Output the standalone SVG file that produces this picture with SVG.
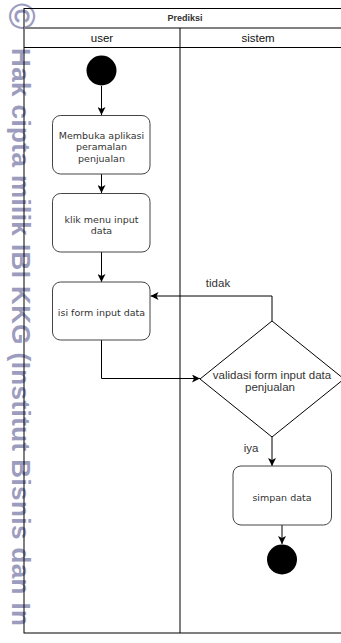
<svg xmlns="http://www.w3.org/2000/svg" width="341" height="643" viewBox="0 0 341 643">
<style>
.wm{font-family:"Liberation Sans",Arial,sans-serif;font-weight:bold;fill:#9c9cbf}
.frame{fill:none;stroke:#000;stroke-width:1}
.box{fill:#fff;stroke:#444;stroke-width:1}
.btxt{font-family:"DejaVu Sans",Verdana,sans-serif;font-size:9.5px;fill:#333;text-anchor:middle}
.ltxt{font-family:"Liberation Sans",Arial,sans-serif;font-size:11.5px;fill:#333;text-anchor:middle}
.htxt{font-family:"Liberation Sans",Arial,sans-serif;font-size:11.5px;fill:#111;text-anchor:middle}
.ttxt{font-family:"Liberation Sans",Arial,sans-serif;font-size:9px;font-weight:bold;fill:#333;text-anchor:middle}
.edge{fill:none;stroke:#000;stroke-width:1}
</style>
<defs>
<marker id="arr" markerUnits="userSpaceOnUse" markerWidth="9" markerHeight="8" refX="8" refY="4" orient="auto">
<path d="M0,0 L8,4 L0,8 L2,4 Z" fill="#000"/>
</marker>
</defs>
<rect width="341" height="643" fill="#fff"/>
<g id="watermark">
<text class="wm" font-size="36" font-weight="normal" transform="translate(9,3) rotate(90)" x="0" y="0">©</text>
<text class="wm" font-size="26" transform="translate(12,48) rotate(90)" x="0" y="0" textLength="578" lengthAdjust="spacing">Hak cipta milik IBI KKG (Institut Bisnis dan In</text>
</g>
<g id="pool">
<rect class="frame" x="24" y="8.5" width="330" height="624.5"/>
<line x1="24" y1="28" x2="341" y2="28" stroke="#808080" stroke-width="2"/>
<line x1="24" y1="47.5" x2="341" y2="47.5" stroke="#000" stroke-width="1"/>
<line x1="180" y1="28" x2="180" y2="633" stroke="#000" stroke-width="1"/>
<text class="ttxt" x="185" y="21">Prediksi</text>
<text class="htxt" x="102" y="42">user</text>
<text class="htxt" x="258" y="42">sistem</text>
</g>
<g id="connectors">
<line class="edge" x1="101.5" y1="86" x2="101.5" y2="115" marker-end="url(#arr)"/>
<line class="edge" x1="101.5" y1="174" x2="101.5" y2="193" marker-end="url(#arr)"/>
<line class="edge" x1="101.5" y1="252" x2="101.5" y2="282" marker-end="url(#arr)"/>
<polyline class="edge" points="101.5,340 101.5,378.5 200,378.5" marker-end="url(#arr)"/>
<polyline class="edge" points="272,321 272,296 150.5,296" marker-end="url(#arr)"/>
<line class="edge" x1="272" y1="437" x2="272" y2="466" marker-end="url(#arr)"/>
<line class="edge" x1="282" y1="525" x2="282" y2="544" marker-end="url(#arr)"/>
<text class="ltxt" x="218" y="287">tidak</text>
<text class="ltxt" x="251" y="452">iya</text>
</g>
<g id="start">
<circle cx="101.5" cy="70.5" r="15" fill="#000"/>
</g>
<g id="membuka">
<rect class="box" x="52.5" y="115.5" width="97.5" height="58.5" rx="8"/>
<text class="btxt" x="101.5" y="138.5">Membuka aplikasi</text>
<text class="btxt" x="101.5" y="150">peramalan</text>
<text class="btxt" x="101.5" y="161.5">penjualan</text>
</g>
<g id="klik">
<rect class="box" x="52.5" y="193.5" width="97.5" height="58.5" rx="8"/>
<text class="btxt" x="101.5" y="222.5">klik menu input</text>
<text class="btxt" x="101.5" y="234">data</text>
</g>
<g id="isi">
<rect class="box" x="52.5" y="282" width="97.5" height="58" rx="8"/>
<text class="btxt" x="101.5" y="315.5">isi form input data</text>
</g>
<g id="validasi">
<polygon points="272,321 344,379 272,437 200,379" fill="#fff" stroke="#000" stroke-width="1"/>
<text class="ltxt" x="272" y="379">validasi form input data</text>
<text class="ltxt" x="270" y="391">penjualan</text>
</g>
<g id="simpan">
<rect class="box" x="233" y="466" width="98.5" height="59" rx="8"/>
<text class="btxt" x="282" y="501">simpan data</text>
</g>
<g id="end">
<circle cx="282" cy="559.5" r="15" fill="#000"/>
</g>
</svg>
